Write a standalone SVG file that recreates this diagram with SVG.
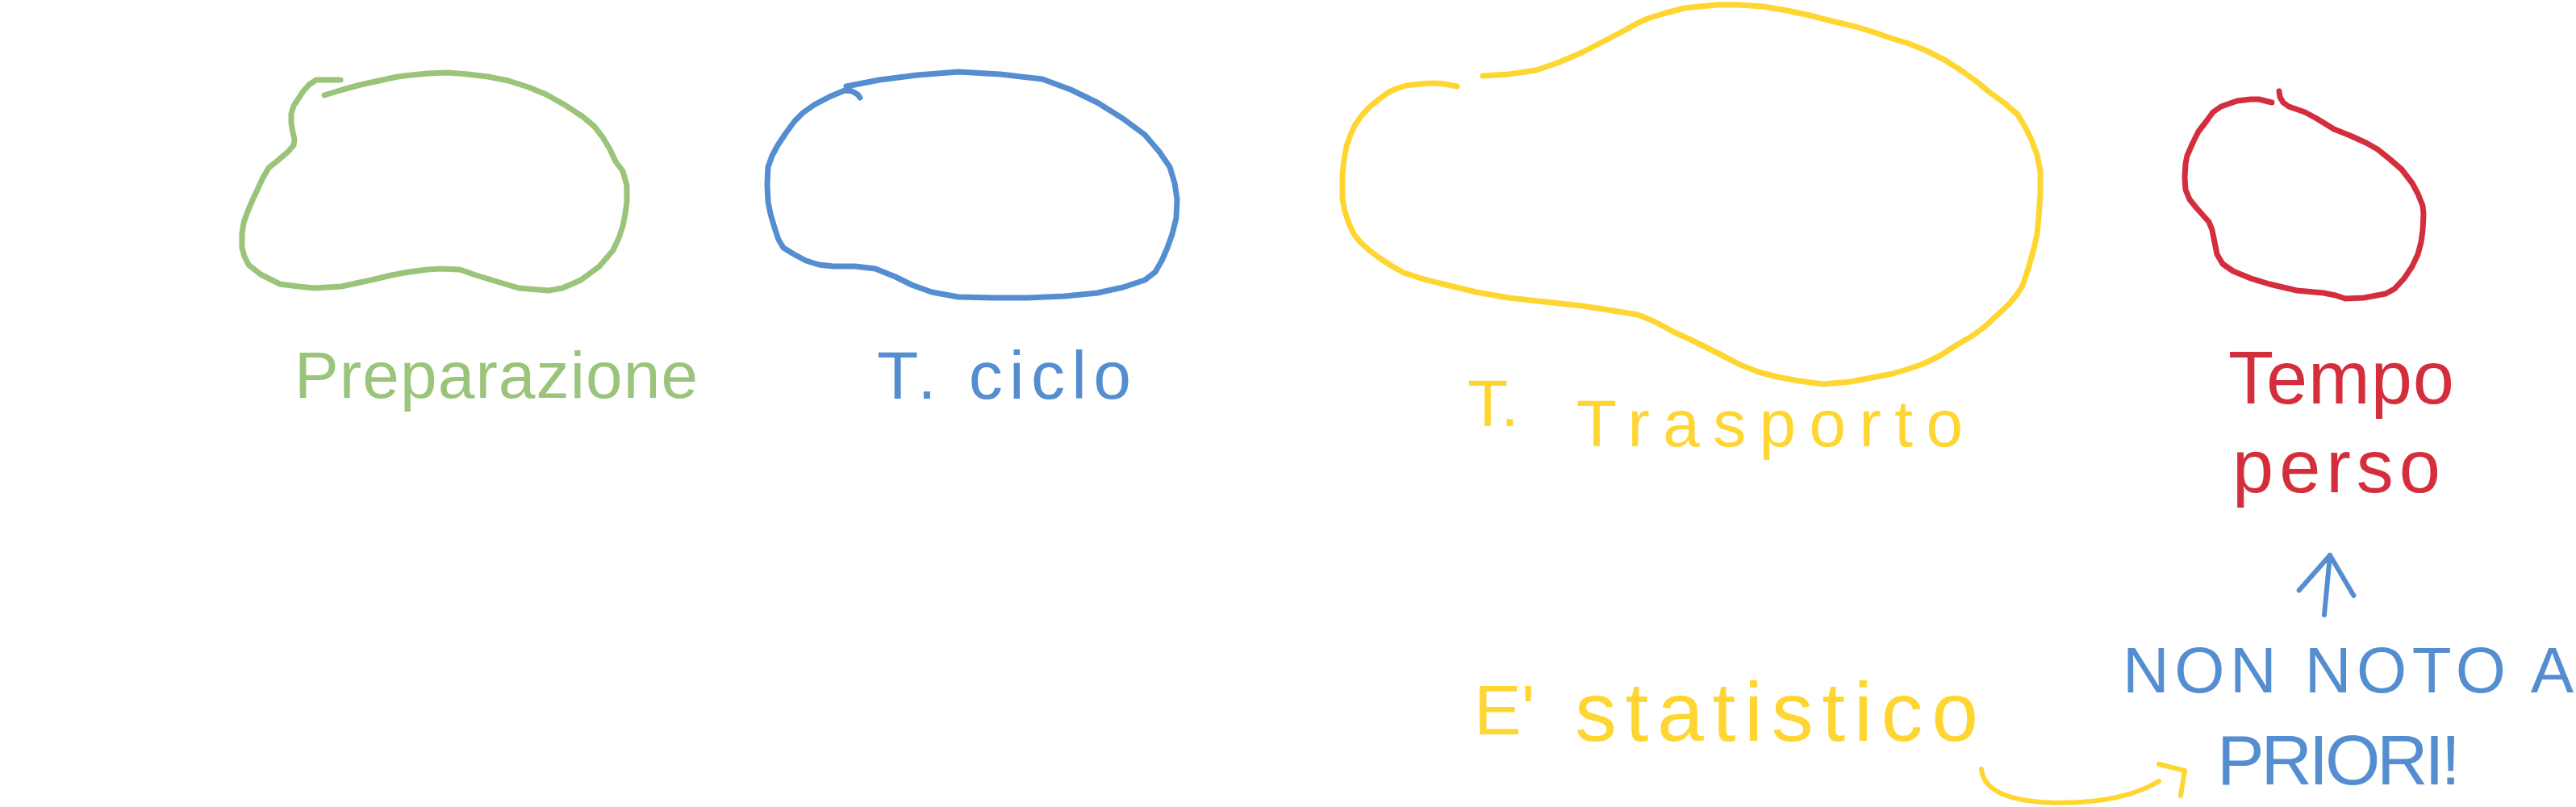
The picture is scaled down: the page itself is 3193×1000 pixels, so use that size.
<svg xmlns="http://www.w3.org/2000/svg" width="3193" height="1000" viewBox="0 0 3193 1000">
<style>
.blob{fill:none;stroke-width:7;stroke-linecap:round;stroke-linejoin:round}
.lbl{font-family:"Liberation Sans",Arial,sans-serif;font-weight:normal}
.green{stroke:#9bc47b}.greenT{fill:#9bc47b}
.blue{stroke:#558ed0}.blueT{fill:#558ed0}
.yellow{stroke:#ffd631}.yellowT{fill:#ffd631}
.red{stroke:#d42e3c}.redT{fill:#d42e3c}
.conn{fill:none;stroke-width:6;stroke-linecap:round;stroke-linejoin:round}
</style>
<defs>
<marker id="ahBlue" viewBox="-60 -60 120 120" markerWidth="120" markerHeight="120" markerUnits="userSpaceOnUse" refX="0" refY="0" orient="auto">
<path d="M-47,-34 L0,0 L-47,34" fill="none" stroke="#558ed0" stroke-width="6" stroke-linecap="round" stroke-linejoin="round"/>
</marker>
</defs>
<rect width="3193" height="1000" fill="#ffffff"/>

<g id="preparazione">
<path class="blob green" d="M422,99 L392,99 L383,105 L376,113 L370,122 L364,131 L361,141 L361,153 L363,164 L365,173 L364,180 L357,188 L343,200 L333,208 L325,222 L320,233 L313,248 L307,262 L302,276 L300,290 L300,307 L303,318 L308,328 L323,340 L347,352 L370,355 L390,357 L423,355 L460,347 L485,341 L507,337 L530,334 L547,333 L570,334 L590,341 L613,348 L643,357 L680,360 L697,357 L720,347 L743,330 L760,310 L767,295 L772,280 L775,265 L777,250 L777,230 L772,212 L763,200 L756,185 L747,170 L737,157 L723,145 L700,130 L677,117 L655,108 L630,100 L605,95 L580,92 L555,90 L530,91 L510,93 L493,95 L470,100 L447,105 L425,111 L402,118"/>
<text class="lbl greenT" x="365" y="493" font-size="82" textLength="500" lengthAdjust="spacing">Preparazione</text>
</g>

<g id="t-ciclo">
<path class="blob blue" d="M1049,107 L1090,99 L1137,93 L1188,89 L1240,92 L1292,98 L1327,111 L1360,127 L1392,147 L1419,167 L1437,188 L1450,207 L1456,227 L1459,247 L1458,270 L1453,290 L1447,307 L1440,323 L1432,337 L1419,347 L1392,356 L1360,363 L1320,367 L1274,369 L1230,369 L1188,368 L1155,362 L1130,353 L1110,343 L1085,333 L1060,330 L1033,330 L1015,328 L999,323 L984,315 L971,307 L965,297 L960,282 L955,265 L952,250 L951,228 L952,207 L957,193 L964,180 L974,165 L985,150 L995,140 L1009,130 L1028,120 L1047,112 L1056,113 L1063,117 L1066,121"/>
<text class="lbl blueT" x="1087" y="494" font-size="84" textLength="315" lengthAdjust="spacing">T. ciclo</text>
</g>

<g id="t-trasporto">
<path class="blob yellow" d="M1806,107 L1790,104 L1778,103 L1760,104 L1743,106 L1730,110 L1720,115 L1708,124 L1697,133 L1688,143 L1680,154 L1674,167 L1669,181 L1666,198 L1664,215 L1664,246 L1667,262 L1672,277 L1678,290 L1686,300 L1697,310 L1709,319 L1724,329 L1740,338 L1765,346 L1789,352 L1830,362 L1870,369 L1915,374 L1961,379 L2000,385 L2030,390 L2050,398 L2076,412 L2096,421 L2116,431 L2136,441 L2157,452 L2180,461 L2203,467 L2230,472 L2260,476 L2294,473 L2320,468 L2346,463 L2366,457 L2386,450 L2406,440 L2426,427 L2445,416 L2461,404 L2476,390 L2490,377 L2500,365 L2507,354 L2514,333 L2521,308 L2525,290 L2527,269 L2529,240 L2529,212 L2525,192 L2518,173 L2510,157 L2501,142 L2485,128 L2467,115 L2450,101 L2432,88 L2410,74 L2386,62 L2366,54 L2346,48 L2323,40 L2300,33 L2270,26 L2243,19 L2215,13 L2185,8 L2155,6 L2128,6 L2108,8 L2088,10 L2065,16 L2042,23 L2027,30 L2013,38 L1988,51 L1961,65 L1933,77 L1904,87 L1870,92 L1838,94"/>
<text class="lbl yellowT" font-size="82"><tspan x="1819" y="528">T.</tspan><tspan x="1954" y="553" textLength="479" lengthAdjust="spacing">Trasporto</tspan></text>
</g>

<g id="tempo-perso">
<path class="blob red" d="M2816,127 L2800,123 L2790,123 L2773,125 L2753,132 L2743,139 L2735,150 L2725,163 L2718,177 L2711,193 L2709,203 L2708,220 L2709,235 L2714,247 L2722,257 L2730,266 L2738,275 L2742,285 L2745,300 L2748,315 L2755,327 L2768,336 L2790,345 L2813,352 L2847,360 L2880,363 L2895,366 L2907,370 L2930,369 L2957,364 L2968,358 L2980,345 L2990,330 L2997,315 L3001,300 L3003,285 L3004,265 L3003,255 L2997,240 L2990,227 L2977,210 L2962,197 L2947,185 L2933,177 L2913,168 L2893,160 L2880,152 L2870,146 L2857,139 L2837,132 L2830,127 L2826,120 L2825,113"/>
<text class="lbl redT" font-size="92"><tspan x="2762" y="500" textLength="280" lengthAdjust="spacing">Tempo</tspan><tspan x="2767" y="610" textLength="258" lengthAdjust="spacing">perso</tspan></text>
</g>

<g id="statistico">
<text class="lbl yellowT" font-size="88"><tspan x="1827" y="910">E'</tspan><tspan x="1952" y="918" font-size="104" textLength="500" lengthAdjust="spacing">statistico</tspan></text>
</g>

<g id="non-noto">
<text class="lbl blueT" font-size="80"><tspan x="2631" y="858" textLength="559" lengthAdjust="spacing">NON NOTO A</tspan><tspan x="2748" y="972" font-size="88" textLength="302" lengthAdjust="spacing">PRIORI!</tspan></text>
</g>

<g id="connectors">
<path class="conn blue" d="M2881,762 L2888,688" marker-end="url(#ahBlue)"/>
<path class="conn yellow" d="M2456,953 C2458,975 2480,990 2530,994 C2590,997 2640,990 2676,968"/>
<path class="conn yellow" d="M2676,947 L2708,955 L2703,986"/>
</g>
</svg>
